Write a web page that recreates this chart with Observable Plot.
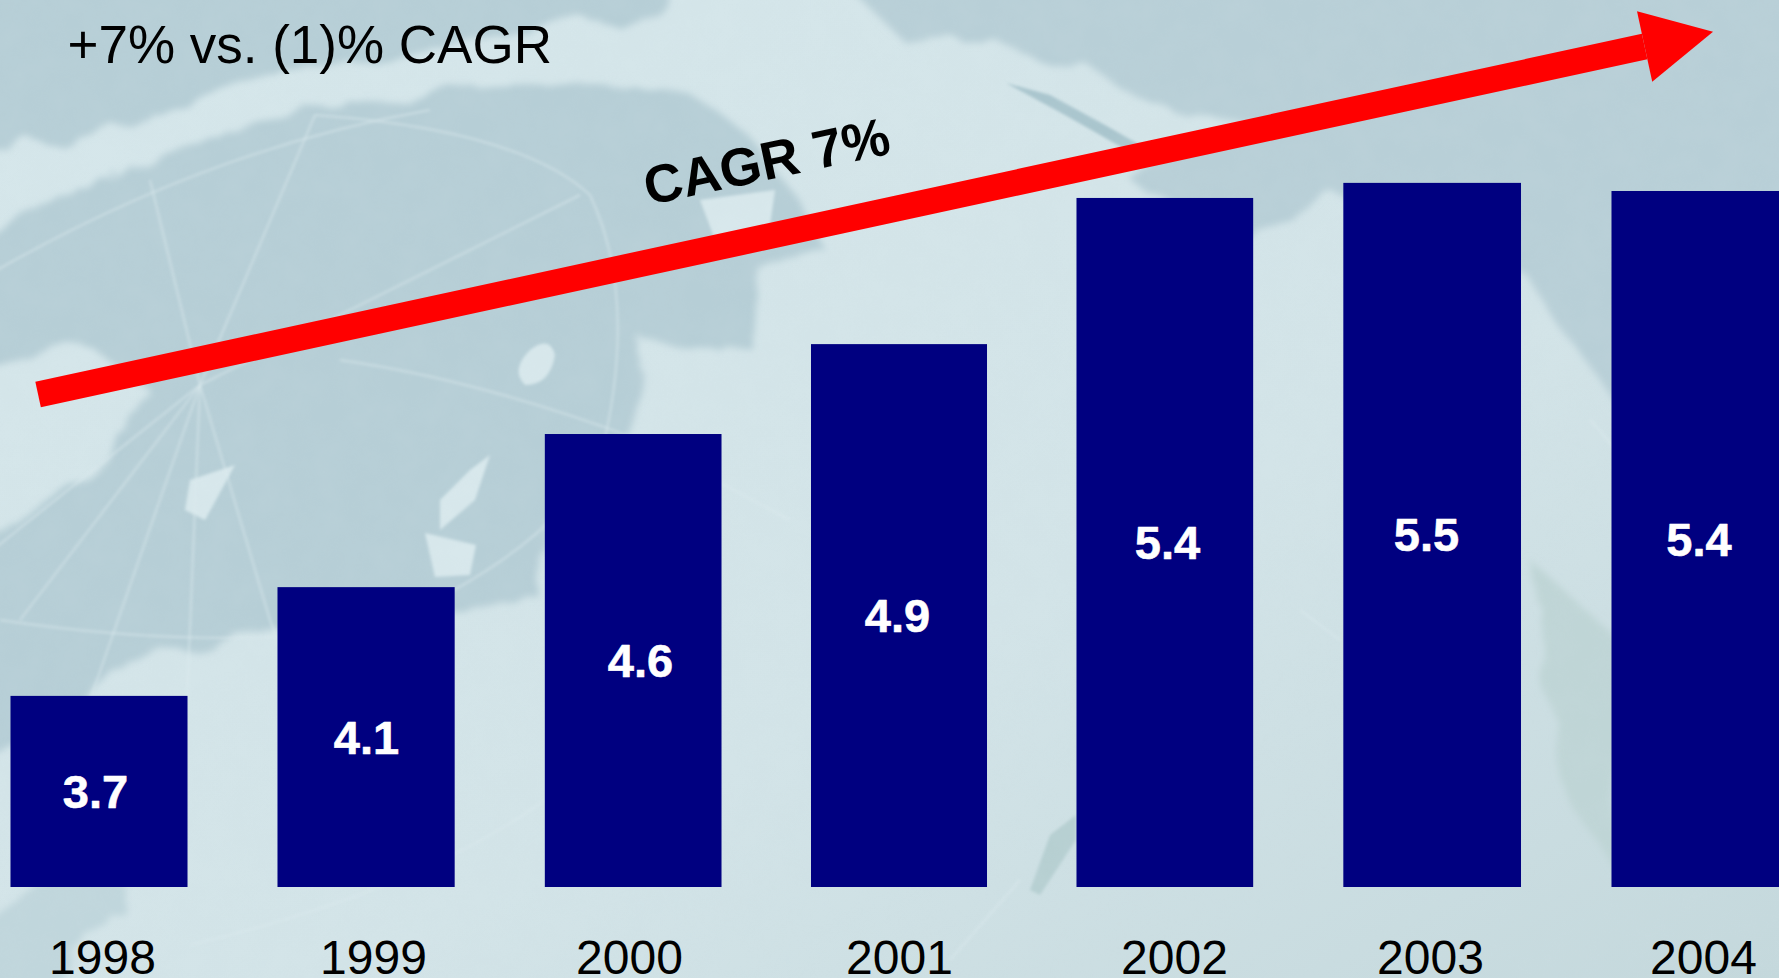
<!DOCTYPE html>
<html>
<head>
<meta charset="utf-8">
<script src="https://cdn.jsdelivr.net/npm/d3@7"></script>
<script src="https://cdn.jsdelivr.net/npm/@observablehq/plot@0.6"></script>
<style>
  html, body { margin: 0; padding: 0; width: 1779px; height: 978px; overflow: hidden; background: #d2e3e8; }
  #map, #chart { position: absolute; left: 0; top: 0; }
  #chart svg { background: transparent; display: block; }
</style>
</head>
<body>
<svg id="map" width="1779" height="978" viewBox="0 0 1779 978" aria-hidden="true">
  <defs>
    <linearGradient id="sea" x1="0" y1="0" x2="1" y2="1">
      <stop offset="0" stop-color="#d6e7eb"/>
      <stop offset="0.6" stop-color="#d3e4e8"/>
      <stop offset="1" stop-color="#c4d8dc"/>
    </linearGradient>
    <filter id="coast" x="-5%" y="-5%" width="110%" height="110%">
      <feTurbulence type="fractalNoise" baseFrequency="0.012" numOctaves="4" seed="7" result="n"/>
      <feDisplacementMap in="SourceGraphic" in2="n" scale="38" result="d"/>
      <feGaussianBlur in="d" stdDeviation="3.5"/>
    </filter>
    <filter id="softer"><feGaussianBlur stdDeviation="1.4"/></filter>
    <filter id="grain" x="0" y="0" width="100%" height="100%">
      <feTurbulence type="fractalNoise" baseFrequency="0.035" numOctaves="3" seed="3"/>
      <feColorMatrix values="0 0 0 0 0.6  0 0 0 0 0.72  0 0 0 0 0.76  0 0 0 0.55 -0.12"/>
    </filter>
  </defs>
  <rect width="1779" height="978" fill="url(#sea)"/>
  <g filter="url(#coast)" fill="#b6ced6">
    <path d="M-40,-40 L700,-40 L660,10 L480,40 L275,70 L120,125 L-40,165 Z"/>
    <path d="M-40,250 L109,173 L320,105 L413,97 L626,80 L694,100 L746,133 L792,193 L826,250 L758,267 L752,347 L640,340 L628,390 L628,500 L545,520 L545,605 L460,612 L280,620 L190,640 L75,700 L-40,780 L-40,560 L90,470 L150,390 L90,345 L-40,365 Z"/>
    <path d="M57,887 L126,887 L126,915 L80,930 L40,1000 L-40,1000 L-40,930 Z" fill="#c0d6dc"/>
    <path d="M820,-40 L1820,-40 L1820,530 L1612,400 L1522,270 L1337,197 L1253,240 L1147,193 L1124,173 L1180,150 L1260,125 L1124,93 L1090,67 L1029,60 L995,40 L900,37 Z" fill="#b8cfd7"/>
    <path d="M1530,560 L1620,640 L1620,880 L1570,800 Z" fill="#bfd5d6"/>
  </g>
  <g filter="url(#softer)">
    <path d="M1006,83 L1050,95 L1105,125 L1140,145 L1130,152 L1065,115 Z" fill="#a9c5cd"/>
    <path d="M1030,890 L1050,835 L1076,815 L1076,840 L1040,895 Z" fill="#b6cfd1"/>
    <path d="M0,0 L0,0" fill="none"/>
    <g fill="#d8e8ec">
      <path d="M530,350 Q550,335 555,355 Q550,385 525,385 Q510,370 530,350 Z"/>
      <path d="M700,200 L775,190 L770,225 L715,240 Z"/>
      <path d="M190,480 L235,465 L205,520 L185,510 Z"/>
      <path d="M470,470 L490,455 L475,500 L440,530 L440,500 Z"/>
      <path d="M425,533 L476,545 L470,575 L435,577 Z"/>
    </g>
  </g>
  <g fill="none" stroke="#dcebee" stroke-width="2" stroke-opacity="0.55" filter="url(#softer)">
    <path d="M200,385 L150,180"/><path d="M200,385 L315,115"/>
    <path d="M200,385 L580,195"/><path d="M200,385 L20,620"/>
    <path d="M200,385 L90,700"/><path d="M200,385 L180,870"/>
    <path d="M200,385 L270,620 L330,780"/><path d="M200,385 L-20,560"/>
    <path d="M315,115 Q520,130 590,195 Q640,300 600,460 Q540,560 370,630 Q200,650 0,620"/>
    <path d="M340,360 Q480,380 640,440 L790,520"/>
    <path d="M190,945 Q420,890 545,800"/>
    <path d="M-20,280 Q200,150 430,110"/>
    <path d="M1590,420 Q1640,470 1660,560"/>
    <path d="M1300,610 L1340,640 M1020,880 L950,960"/>
  </g>
  <rect width="1779" height="978" filter="url(#grain)" opacity="0.35"/>
</svg>
<div id="chart"></div>
<script>
// Data
const years = [1998, 1999, 2000, 2001, 2002, 2003, 2004];
const values = [3.699, 4.074, 4.602, 4.912, 5.416, 5.468, 5.44];
const valueLabels = ["3.7", "4.1", "4.6", "4.9", "5.4", "5.5", "5.4"];
const trendYears = [1997.77, 2003.79];
const trendValues = [4.74, 5.94];
const headline = "+7% vs. (1)% CAGR";
const trendLabel = "CAGR 7%";

// Layout, separate from the data
const font = "'Liberation Sans', Arial, sans-serif";
const base = 3.04;
const halfBar = 0.3315;
const valueNudge = [-4, 0, 6.5, -2, 2.5, -6, -2];
const yearNudge = [3, 7, -4.5, 0, 9.5, -2, 2.5];

const bars = years.map((year, i) => ({year, value: values[i], label: valueLabels[i], i}));

// Filled arrow head, pointing up before rotation
const arrowHead = {
  draw(ctx) {
    ctx.moveTo(0, -70);
    ctx.lineTo(36, 0);
    ctx.lineTo(-36, 0);
    ctx.closePath();
  }
};

const chart = Plot.plot({
  width: 1779,
  height: 978,
  marginTop: 0,
  marginLeft: 0,
  marginRight: 0,
  marginBottom: 91,
  style: {background: "transparent", fontFamily: font},
  x: {type: "linear", axis: null, domain: years, range: [99, 366, 633.5, 899, 1164.5, 1432, 1700.5]},
  y: {axis: null, domain: [base, 6.0986]},
  marks: [
    Plot.rectY(bars, {
      x1: d => d.year - halfBar,
      x2: d => d.year + halfBar,
      y1: base,
      y2: "value",
      fill: "#000080"
    }),
    ...bars.map(d => Plot.text([d], {
      x: "year",
      y: v => (base + v.value) / 2,
      text: "label",
      dx: valueNudge[d.i],
      dy: 1,
      fill: "white",
      stroke: "white",
      strokeWidth: 0.6,
      fontSize: 47,
      fontWeight: "bold",
      lineAnchor: "middle"
    })),
    ...bars.map(d => Plot.text([d], {
      x: "year",
      y: base,
      dy: 71,
      dx: yearNudge[d.i],
      text: v => String(v.year),
      fill: "black",
      fontSize: 48,
      lineAnchor: "middle"
    })),
    Plot.line(trendYears.map((x, i) => ({x, y: trendValues[i]})), {
      x: "x",
      y: "y",
      stroke: "#ff0000",
      strokeWidth: 26,
      strokeLinecap: "butt",
      curve: "linear"
    }),
    Plot.dot([{x: trendYears[1], y: trendValues[1]}], {
      x: "x",
      y: "y",
      symbol: arrowHead,
      rotate: 77.8,
      fill: "#ff0000",
      stroke: "none"
    }),
    Plot.text([trendLabel], {
      x: 2000.5,
      y: 5.54,
      text: d => d,
      rotate: -12,
      fill: "black",
      fontSize: 53.5,
      fontWeight: "bold",
      lineAnchor: "middle"
    }),
    Plot.text([headline], {
      x: 1997.88,
      y: 5.943,
      text: d => d,
      fill: "black",
      fontSize: 53,
      textAnchor: "start",
      lineAnchor: "middle"
    })
  ]
});
document.getElementById("chart").append(chart);
</script>
</body>
</html>
